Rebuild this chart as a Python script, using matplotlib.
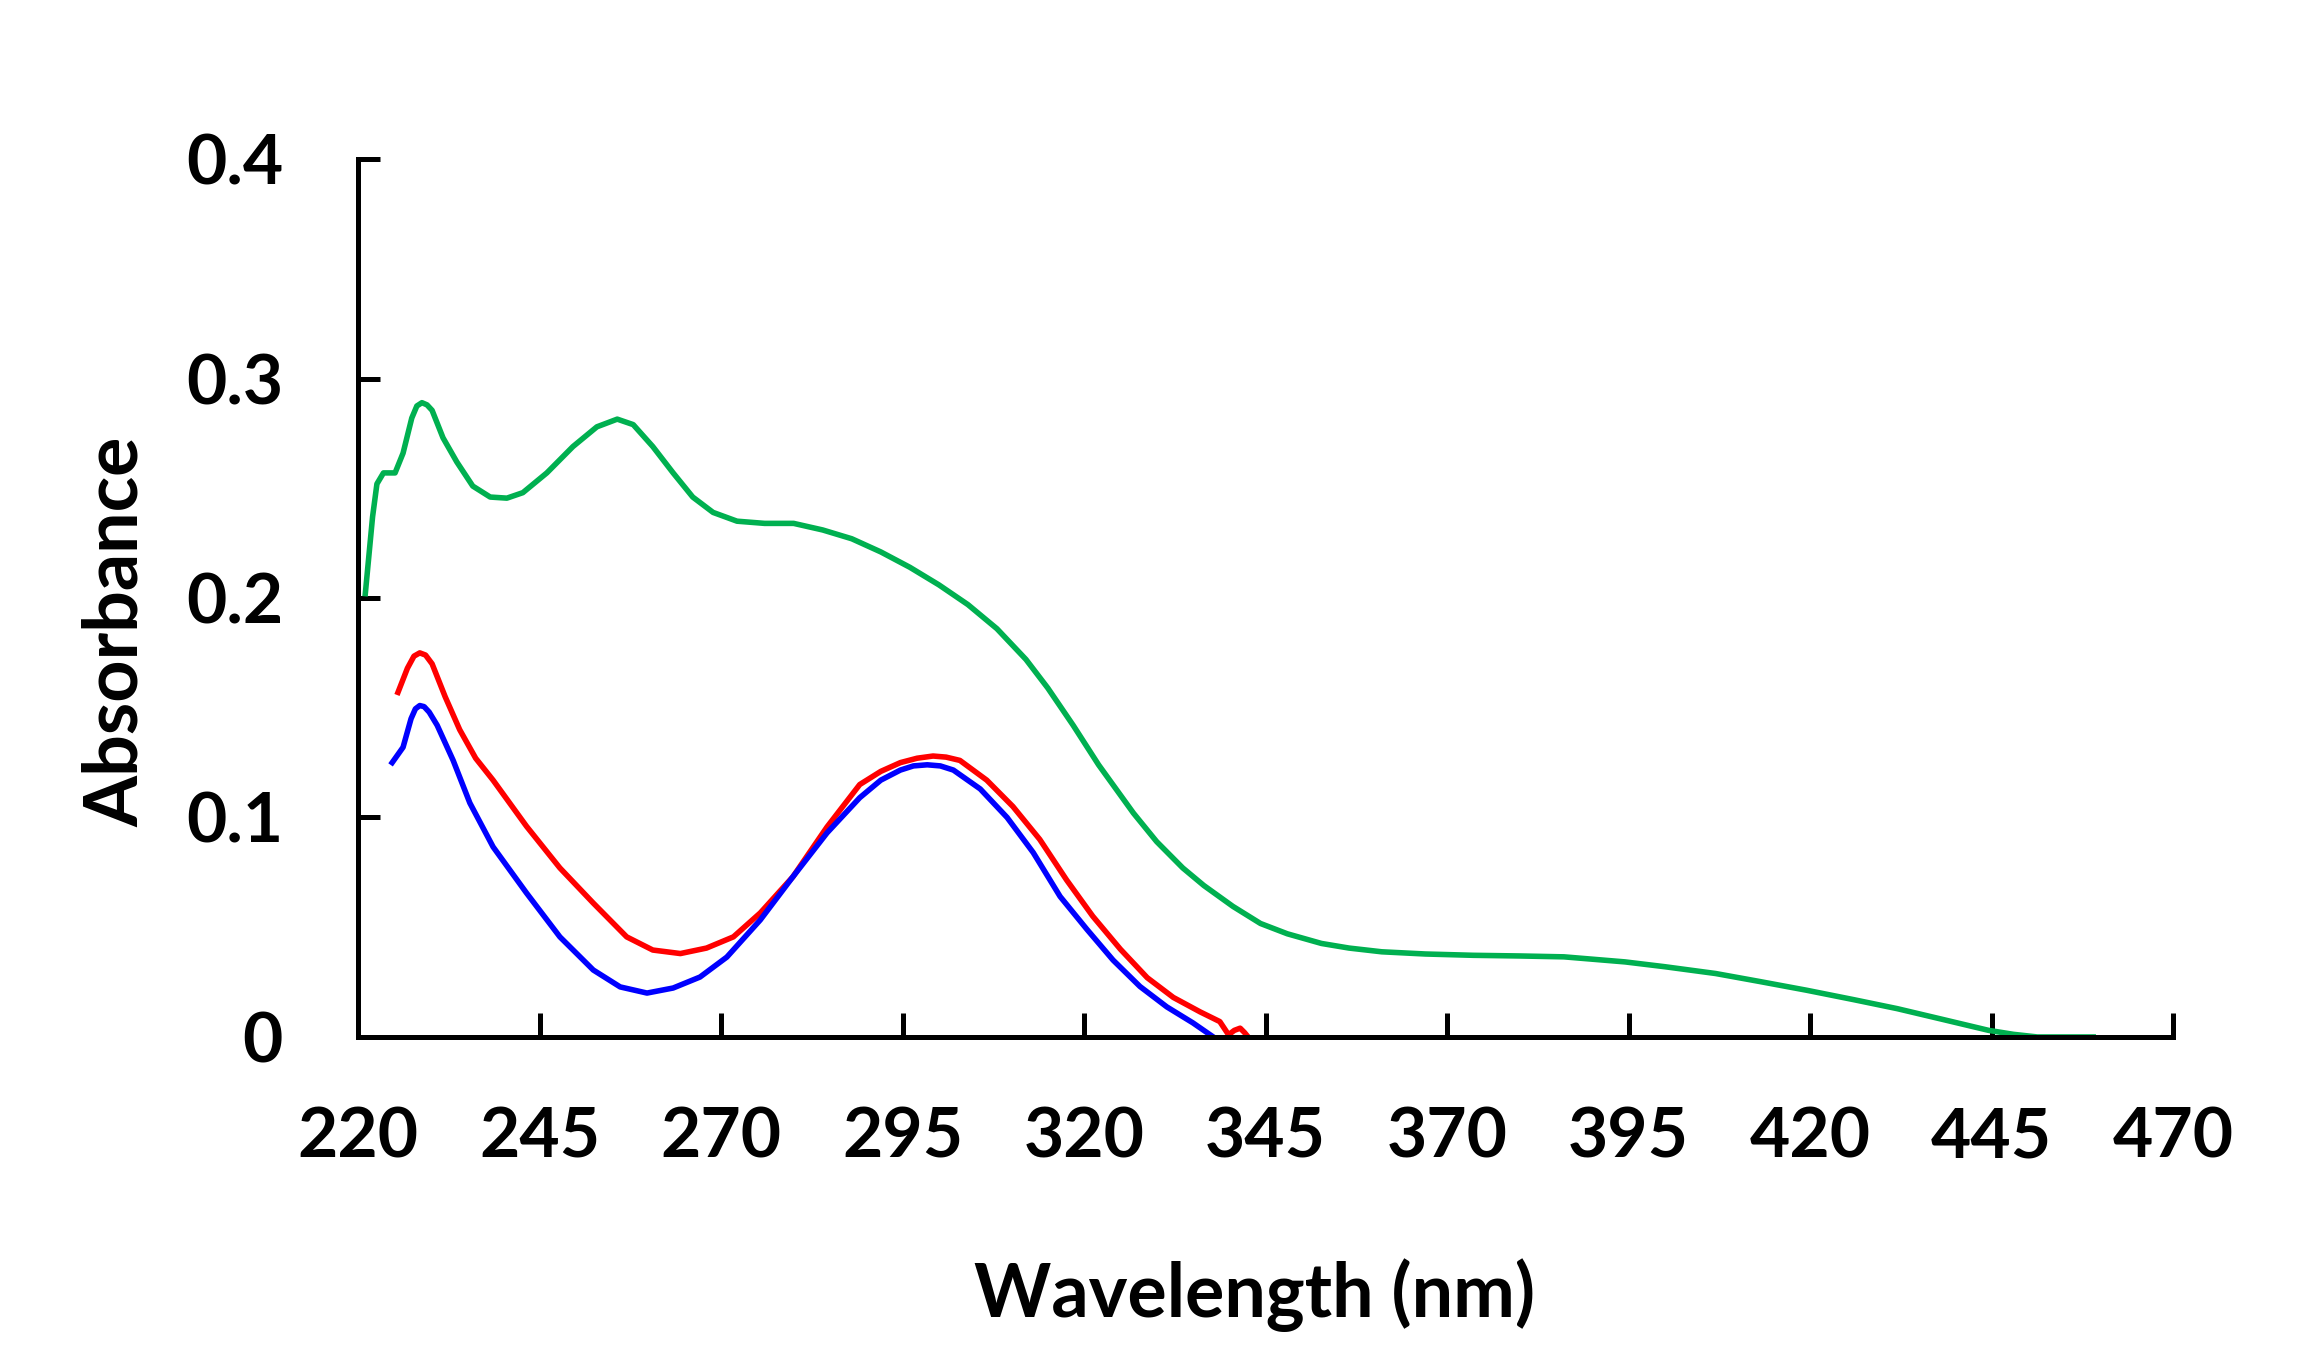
import matplotlib
matplotlib.use("Agg")
import matplotlib.pyplot as plt

# 吸収スペクトル
green_nm = [221.0, 222.0, 222.6, 223.5, 225.1, 226.2, 227.4, 228.1, 228.8, 229.5,
            230.2, 231.7, 233.6, 235.8, 238.2, 240.5, 242.7, 246.0, 249.6, 252.9,
            255.7, 257.9, 260.6, 263.4, 266.1, 268.9, 272.2, 276.0, 280.0, 284.0,
            288.0, 292.0, 296.0, 300.0, 304.0, 308.0, 312.0, 315.0, 318.5, 322.0,
            326.8, 330.0, 333.6, 336.5, 340.5, 344.3, 348.0, 352.7, 356.5, 361.0,
            367.0, 373.6, 380.0, 386.1, 394.5, 400.0, 407.0, 413.0, 419.5, 426.0,
            432.0, 438.0, 444.6, 448.0, 451.3, 459.0]
green_abs = [0.202, 0.237, 0.252, 0.257, 0.257, 0.266, 0.282, 0.2875, 0.289, 0.288,
             0.2855, 0.273, 0.262, 0.251, 0.246, 0.2455, 0.248, 0.257, 0.269, 0.278,
             0.2815, 0.279, 0.269, 0.257, 0.246, 0.239, 0.235, 0.234, 0.234, 0.231,
             0.227, 0.221, 0.214, 0.206, 0.197, 0.186, 0.172, 0.159, 0.142, 0.124,
             0.102, 0.089, 0.077, 0.069, 0.0595, 0.0517, 0.047, 0.0426, 0.0405, 0.0388,
             0.0378, 0.0372, 0.0369, 0.0365, 0.0342, 0.0320, 0.0289, 0.0253, 0.0213, 0.0170,
             0.0129, 0.0082, 0.0030, 0.0012, 0.000, 0.000]

red_nm = [225.5, 226.8, 227.7, 228.5, 229.3, 230.2, 232.0, 234.0, 236.2, 238.6,
          243.2, 247.8, 252.4, 257.0, 260.6, 264.4, 268.0, 271.7, 275.4, 279.9,
          284.6, 289.1, 292.0, 294.7, 297.0, 299.2, 301.0, 302.9, 306.6, 310.2,
          313.9, 317.6, 321.2, 325.0, 328.7, 332.3, 336.0, 338.7, 339.9, 340.7,
          341.5, 342.1, 342.6]
red_abs = [0.157, 0.168, 0.1735, 0.175, 0.174, 0.170, 0.155, 0.140, 0.127, 0.117,
           0.096, 0.077, 0.061, 0.0456, 0.0396, 0.038, 0.0405, 0.0456, 0.0565, 0.073,
           0.0957, 0.115, 0.121, 0.125, 0.127, 0.128, 0.1275, 0.126, 0.117, 0.105,
           0.090, 0.0715, 0.055, 0.040, 0.027, 0.018, 0.0114, 0.007, 0.001, 0.003,
           0.004, 0.002, 0.000]

blue_nm = [224.7, 226.2, 227.3, 227.9, 228.5, 229.1, 229.8, 230.9, 233.1, 235.4,
           238.6, 243.2, 247.8, 252.4, 256.1, 259.8, 263.4, 267.1, 270.8, 275.4,
           279.9, 284.6, 289.1, 292.0, 294.7, 296.5, 298.4, 300.2, 302.0, 305.7,
           309.4, 313.0, 316.7, 320.4, 324.0, 327.7, 331.4, 335.0, 337.8]
blue_abs = [0.125, 0.132, 0.145, 0.1495, 0.151, 0.1505, 0.148, 0.142, 0.126, 0.1066,
            0.0866, 0.0656, 0.0456, 0.0305, 0.0228, 0.020, 0.0223, 0.0273, 0.0364, 0.0533,
            0.073, 0.093, 0.109, 0.117, 0.1216, 0.1235, 0.124, 0.1235, 0.1216, 0.113,
            0.100, 0.084, 0.064, 0.049, 0.035, 0.023, 0.0137, 0.0064, 0.000]

x_ticks = [220, 245, 270, 295, 320, 345, 370, 395, 420, 445, 470]
y_ticks = [0, 0.1, 0.2, 0.3, 0.4]
y_labels = ["0", "0.1", "0.2", "0.3", "0.4"]

plt.rcParams['font.family'] = ['Lato', 'DejaVu Sans']
plt.rcParams['font.weight'] = 'bold'

fig = plt.figure(figsize=(23.13, 13.70), dpi=100)
ax = fig.add_axes([0.1548, 0.2431, 0.7847, 0.6408])

ax.plot(green_nm, green_abs, color='#00B050', lw=4, solid_joinstyle='round')
ax.plot(red_nm, red_abs, color='#FF0000', lw=4, solid_joinstyle='round')
ax.plot(blue_nm, blue_abs, color='#0000FF', lw=4, solid_joinstyle='round')

ax.set_xlim(220, 470)
ax.set_ylim(0, 0.4)
ax.set_xticks(x_ticks)
ax.set_yticks(y_ticks)
ax.set_yticklabels(y_labels)

for s in ['top', 'right']:
    ax.spines[s].set_visible(False)
for s in ['left', 'bottom']:
    ax.spines[s].set_linewidth(3.6)

ax.tick_params(axis='x', direction='in', length=17, width=3.6, pad=50, labelsize=50)
ax.tick_params(axis='y', direction='in', length=16, width=3.6, pad=54, labelsize=50)

ax.set_xlabel('Wavelength (nm)', fontsize=53, fontweight='bold')
ax.set_ylabel('Absorbance', fontsize=53, fontweight='bold')
ax.xaxis.set_label_coords(0.494, -0.252)
ax.yaxis.set_label_coords(-0.114, 0.462)

fig.savefig('out.png', dpi=100)
